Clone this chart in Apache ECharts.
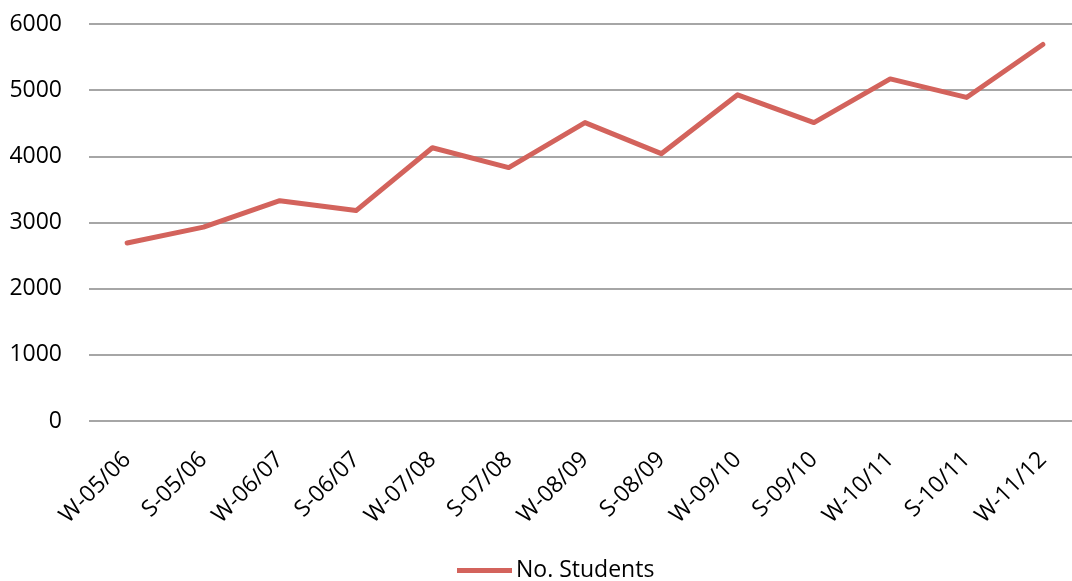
<!DOCTYPE html>
<html>
<head>
<meta charset="utf-8">
<script src="https://cdn.jsdelivr.net/npm/echarts@6/dist/echarts.min.js"></script>
<style>
  html, body { margin: 0; padding: 0; background: #fff; }
  #chart { width: 1072px; height: 581px; }
</style>
</head>
<body>
<div id="chart"></div>
<script>
var terms = ['W-05/06', 'S-05/06', 'W-06/07', 'S-06/07', 'W-07/08', 'S-07/08', 'W-08/09',
  'S-08/09', 'W-09/10', 'S-09/10', 'W-10/11', 'S-10/11', 'W-11/12'];
var students = [2690, 2930, 3330, 3180, 4130, 3830, 4510, 4040, 4930, 4510, 5170, 4890, 5690];
var seriesName = 'No. Students';

var myChart = echarts.init(document.getElementById('chart'));

var option = {
  backgroundColor: '#fff',
  animation: false,
  textStyle: { fontFamily: 'Open Sans' },
  grid: {
    left: 89,
    top: 24,
    width: 992,
    height: 397,
    outerBoundsMode: 'none'
  },
  legend: {
    data: [seriesName],
    left: 457,
    top: 559,
    padding: 0,
    itemWidth: 55,
    itemHeight: 5,
    itemGap: 4,
    icon: 'rect',
    textStyle: { fontSize: 23, color: '#000', padding: [0, 0, 0, -1] }
  },
  xAxis: {
    type: 'category',
    data: terms,
    boundaryGap: true,
    axisLine: { show: false },
    axisTick: { show: false },
    axisLabel: {
      rotate: 45,
      fontSize: 23,
      color: '#000',
      margin: 35,
      interval: 0
    }
  },
  yAxis: {
    type: 'value',
    min: 0,
    max: 6000,
    interval: 1000,
    axisLine: { show: false },
    axisTick: { show: false },
    axisLabel: {
      fontSize: 23,
      color: '#000',
      margin: 27,
      formatter: function (v) { return String(v); }
    },
    splitLine: { lineStyle: { color: '#a6a6a6', width: 2 } }
  },
  series: [
    {
      name: seriesName,
      type: 'line',
      data: students,
      symbol: 'none',
      color: '#d3635c',
      lineStyle: { width: 5, cap: 'round', join: 'round' }
    }
  ]
};

myChart.setOption(option);
</script>
</body>
</html>
